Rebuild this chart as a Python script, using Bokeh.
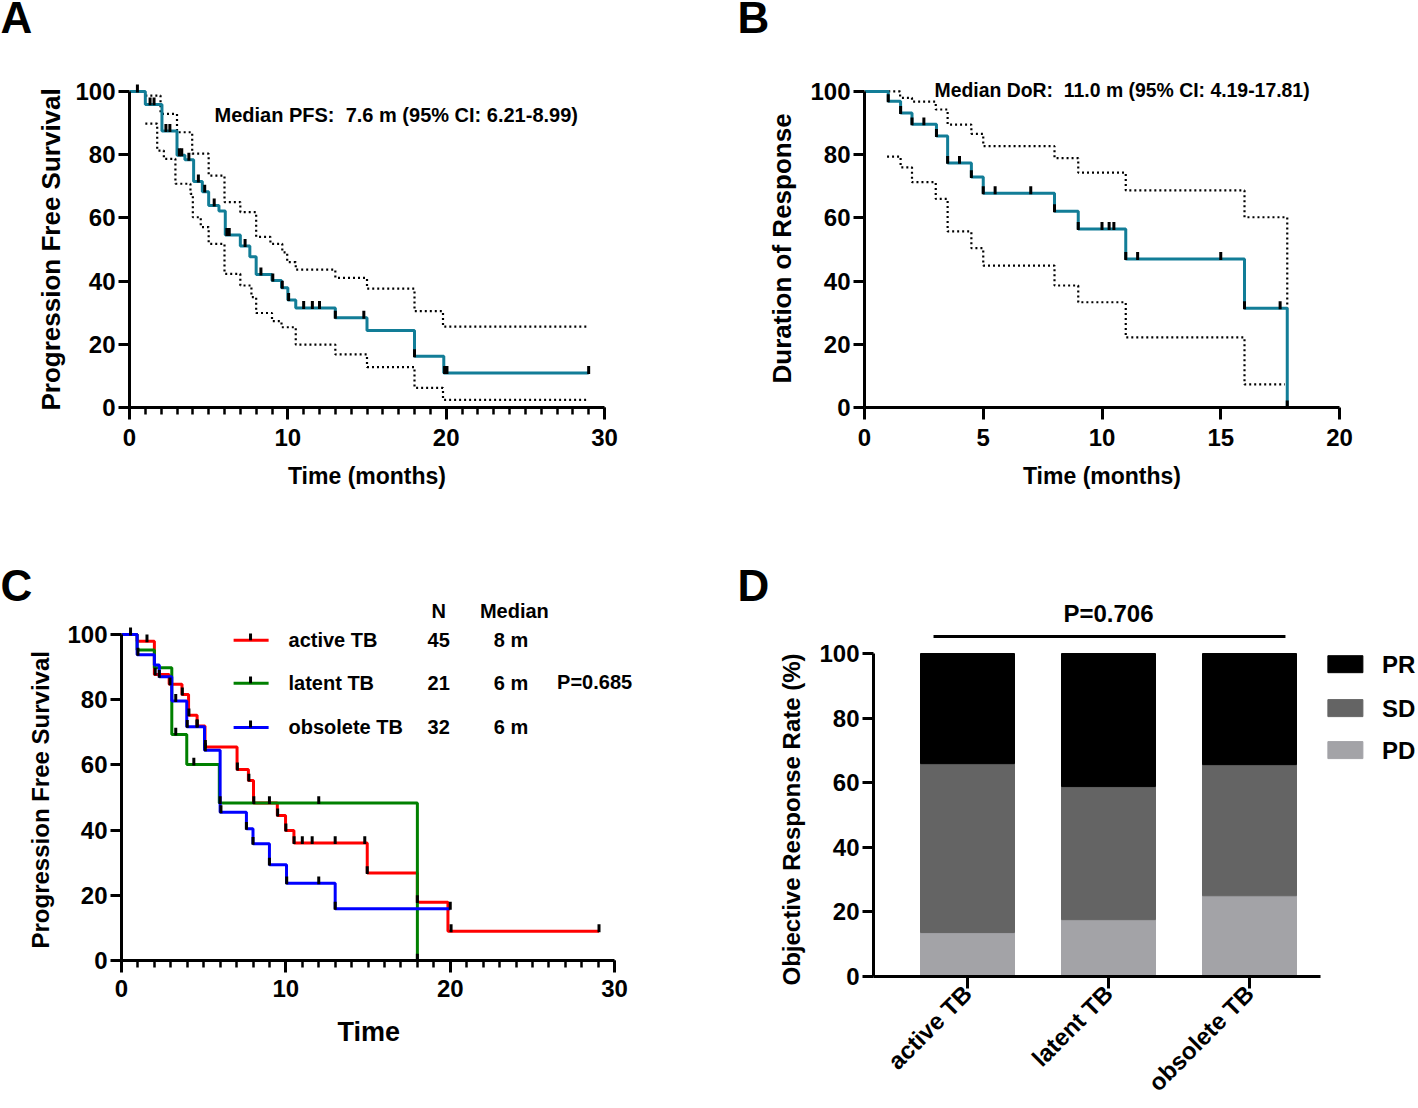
import math
import numpy as np
from bokeh.plotting import figure
from bokeh.layouts import row, column
from bokeh.models import FixedTicker, Range1d, Title
from bokeh.embed import file_html
from bokeh.resources import INLINE
from bokeh.core.properties import value

FONT = "Liberation Sans"

# ---------------- Panel A: PFS (Kaplan-Meier with 95% CI) ----------------
pfs_t = [0, 1.0, 2.05, 3.0, 3.5, 4.05, 4.6, 5.0, 5.65, 6.05, 7.0, 7.6, 8.0, 9.0, 9.6, 10.0, 10.5, 13.0, 15.0, 18.0, 19.85]
pfs_s = [100, 95.9, 87.5, 79.8, 78.4, 71.5, 68.3, 63.9, 62.2, 54.6, 51.1, 47.7, 42.1, 40.2, 37.9, 34.0, 31.5, 28.4, 24.4, 16.2, 10.9]
pfs_end = 29.0
pfs_cens = [0.5, 1.3, 1.55, 2.3, 2.55, 3.15, 3.3, 3.75, 4.35, 4.75, 5.35, 6.15, 6.3, 7.3, 8.3,
            9.05, 9.65, 10.05, 11.0, 11.55, 12.0, 13.0, 14.8, 18.0, 19.9, 20.05, 29.0]
pfs_hi_t = [1.0, 1.96, 3.0, 3.96, 5.0, 6.0, 7.0, 8.0, 8.9, 9.65, 9.96, 10.5, 13.0, 15.0, 18.0, 19.8]
pfs_hi_s = [98.7, 92.9, 87.1, 80.3, 73.4, 65.0, 61.8, 54.0, 51.8, 49.1, 46.0, 43.6, 41.0, 37.6, 30.5, 25.6]
pfs_lo_t = [1.0, 1.75, 2.17, 2.9, 3.85, 4.0, 4.5, 5.0, 6.0, 7.0, 7.7, 8.0, 9.0, 9.6, 10.5, 13.0, 15.0, 18.0, 19.8]
pfs_lo_s = [89.8, 81.3, 78.7, 70.8, 67.6, 60.2, 57.1, 51.8, 42.3, 38.6, 34.9, 29.9, 27.3, 25.4, 19.9, 16.8, 12.8, 6.2, 2.4]
pfs_ci_end = 28.9
pfs_text = "Median PFS:\u00a0 7.6 m (95% CI: 6.21-8.99)"

# ---------------- Panel B: Duration of response ----------------
dor_t = [0, 1.0, 1.52, 2.0, 3.03, 3.5, 4.5, 5.0, 8.0, 9.0, 11.0, 16.0, 17.8]
dor_s = [100, 96.9, 93.2, 89.6, 85.9, 77.4, 72.9, 67.8, 62.1, 56.5, 47.0, 31.4, 0]
dor_end = 17.8
dor_cens = [1.0, 1.52, 2.0, 2.5, 3.03, 3.5, 4.0, 4.5, 5.0, 5.5, 7.0, 8.0, 9.0, 10.0, 10.3, 10.5,
            11.0, 11.5, 15.0, 16.0, 17.5, 17.8]
dor_hi_t = [1.0, 1.5, 2.0, 3.0, 3.5, 4.5, 5.0, 8.0, 9.0, 11.0, 16.0, 17.8]
dor_hi_s = [100, 98.0, 96.8, 94.3, 89.5, 86.6, 82.7, 78.9, 74.3, 68.7, 60.2, 31.4]
dor_hi_end = 17.8
dor_lo_t = [0.95, 1.52, 2.0, 3.0, 3.5, 4.5, 5.0, 8.0, 9.0, 11.0, 16.0]
dor_lo_s = [79.4, 76.0, 71.3, 66.0, 55.7, 50.4, 44.9, 38.6, 33.3, 22.2, 7.3]
dor_lo_end = 17.7
dor_text = "Median DoR:\u00a0 11.0 m (95% CI: 4.19-17.81)"

# ---------------- Panel C: PFS by TB status ----------------
groups = ["active TB", "latent TB", "obsolete TB"]
group_n = ["45", "21", "32"]
group_median = ["8 m", "6 m", "6 m"]
group_colors = ["#ff0000", "#008000", "#0000ff"]
active_t = [0, 0.95, 2.0, 2.9, 3.68, 4.08, 4.6, 5.08, 7.03, 7.72, 8.03, 9.48, 9.98, 10.49, 14.95, 18.0, 19.86]
active_s = [100, 97.9, 87.7, 84.7, 81.6, 75.2, 71.9, 65.5, 58.6, 55.2, 48.3, 44.5, 39.9, 36.0, 26.8, 17.9, 9.0]
active_end = 29.05
active_cens = [0.55, 1.55, 2.05, 2.95, 3.7, 4.1, 4.6, 5.1, 7.05, 7.75, 8.05, 9.0, 9.5, 10.0, 10.5,
               11.0, 11.6, 13.0, 14.8, 14.95, 18.0, 20.05, 29.05]
latent_t = [0, 0.95, 2.0, 3.06, 3.97, 5.95, 18.0]
latent_s = [100, 95.2, 89.8, 69.3, 60.1, 48.3, 0]
latent_end = 18.0
latent_cens = [3.3, 4.4, 6.0, 12.0, 18.0]
obs_t = [0, 0.95, 2.0, 2.3, 3.06, 3.97, 5.05, 6.0, 7.6, 8.0, 9.0, 10.04, 13.0]
obs_s = [100, 93.8, 90.6, 87.0, 79.6, 71.7, 64.5, 45.5, 40.4, 35.8, 29.4, 23.7, 15.9]
obs_end = 20.0
obs_cens = [1.0, 2.3, 3.3, 4.0, 4.6, 5.1, 6.05, 7.6, 8.0, 9.0, 10.05, 12.0, 13.0, 20.0]
pval_c = "P=0.685"

# ---------------- Panel D: Objective response ----------------
d_cats = ["active TB", "latent TB", "obsolete TB"]
d_pd = [13.6, 17.6, 25.0]
d_sd = [52.3, 41.2, 40.6]
d_pr = [34.1, 41.2, 34.4]
d_labels = ["PR", "SD", "PD"]
d_colors = ["#000000", "#646464", "#a3a3a7"]
pval_d = "P=0.706"

TEAL = "#127d97"


def step_xy(t, s, end):
    xs, ys = [t[0]], [s[0]]
    for i in range(1, len(t)):
        xs += [t[i], t[i]]
        ys += [s[i - 1], s[i]]
    xs.append(end)
    ys.append(s[-1])
    return xs, ys


def surv_at(t, s, q):
    idx = np.searchsorted(np.array(t), np.array(q), side="right") - 1
    return np.array(s)[idx]


def make_fig(w, h, xr, yr, bl, br, bt, bb):
    p = figure(width=w, height=h, x_range=Range1d(*xr), y_range=Range1d(*yr),
               output_backend="svg", toolbar_location=None,
               min_border_left=bl, min_border_right=br, min_border_top=bt, min_border_bottom=bb)
    p.outline_line_color = None
    p.xgrid.visible = False
    p.ygrid.visible = False
    for ax in list(p.xaxis) + list(p.yaxis):
        ax.axis_line_width = 3
        ax.axis_line_color = "black"
        ax.major_tick_line_width = 3
        ax.major_tick_line_color = "black"
        ax.minor_tick_line_width = 2.5
        ax.minor_tick_line_color = "black"
        ax.major_tick_in = 0
        ax.major_tick_out = 11
        ax.minor_tick_in = 0
        ax.minor_tick_out = 7
        ax.major_label_text_font = FONT
        ax.major_label_text_font_style = "bold"
        ax.major_label_text_font_size = "24px"
        ax.major_label_text_color = "black"
        ax.axis_label_text_font = FONT
        ax.axis_label_text_font_style = "bold"
        ax.axis_label_text_color = "black"
    p.xaxis.major_tick_out = 12
    p.xaxis.major_label_standoff = 9
    p.yaxis.major_label_standoff = 3
    p.xaxis.axis_label_standoff = 14
    p.xaxis.axis_label_text_font_size = "23px"
    p.yaxis.ticker = FixedTicker(ticks=[0, 20, 40, 60, 80, 100])
    p.yaxis.bounds = (0, 100)
    p.title.text = ""
    return p


def side_title(p, text, side, size, offset, standoff, valign):
    p.add_layout(Title(text=text, text_font=FONT, text_font_style="bold", text_font_size=size,
                       text_color="black", align="left", offset=offset, standoff=standoff,
                       vertical_align=valign), side)


def km(p, t, s, end, color, width=3):
    xs, ys = step_xy(t, s, end)
    p.line(xs, ys, line_color=color, line_width=width)


def ci(p, t, s, end):
    xs, ys = step_xy(t, s, end)
    p.line(xs, ys, line_color="black", line_width=2.2, line_dash="2 3")


def censor(p, t, s, cens, h=2.2):
    cs = surv_at(t, s, cens)
    p.segment(x0=cens, y0=cs - 0.3, x1=cens, y1=cs + h, line_color="black", line_width=3)


def header(w, h, letter, x, ymid):
    p = figure(width=w, height=h, x_range=Range1d(0, w), y_range=Range1d(0, h),
               output_backend="svg", toolbar_location=None, min_border=0,
               x_axis_location=None, y_axis_location=None)
    p.outline_line_color = None
    p.grid.visible = False
    p.text(x=[x], y=[ymid], text=[letter], text_font=value(FONT), text_font_style="bold",
           text_font_size="44px", text_baseline="middle", text_align="left", text_color="black")
    return p


hdrA = header(716, 36, "A", 0, 19.5)
hdrB = header(702, 36, "B", 21, 19.5)
hdrC = header(716, 84, "C", 0, 17.5)
hdrD = header(702, 84, "D", 21, 17.5)

# ---- A ----
pA = make_fig(716, 482, (0, 30), (0, 106), 129, 112, 36, 111)
pA.xaxis.ticker = FixedTicker(ticks=[0, 10, 20, 30], minor_ticks=list(range(0, 31)))
pA.xaxis.bounds = (0, 30)
pA.xaxis.axis_label = "Time (months)"
side_title(pA, "Progression Free Survival", "left", "26px", -3, 14, "bottom")
ci(pA, pfs_hi_t, pfs_hi_s, pfs_ci_end)
ci(pA, pfs_lo_t, pfs_lo_s, pfs_ci_end)
km(pA, pfs_t, pfs_s, pfs_end, TEAL)
censor(pA, pfs_t, pfs_s, pfs_cens)
pA.text(x=[5.37], y=[92.7], text=[pfs_text], text_font=value(FONT), text_font_style="bold",
        text_font_size="20px", text_baseline="middle", text_align="left", text_color="black")

# ---- B ----
pB = make_fig(702, 482, (0, 20), (0, 106), 148, 79, 36, 111)
pB.xaxis.ticker = FixedTicker(ticks=[0, 5, 10, 15, 20])
pB.xaxis.bounds = (0, 20)
pB.xaxis.axis_label = "Time (months)"
side_title(pB, "Duration of Response", "left", "26px", 24, 22, "bottom")
ci(pB, dor_hi_t, dor_hi_s, dor_hi_end)
ci(pB, dor_lo_t, dor_lo_s, dor_lo_end)
km(pB, dor_t, dor_s, dor_end, TEAL)
censor(pB, dor_t, dor_s, dor_cens)
pB.text(x=[2.95], y=[100.6], text=[dor_text], text_font=value(FONT), text_font_style="bold",
        text_font_size="19.4px", text_baseline="middle", text_align="left", text_color="black")

# ---- C ----
pC = make_fig(716, 506, (0, 32), (0, 109.8), 121, 69, 0, 148)
pC.xaxis.ticker = FixedTicker(ticks=[0, 10, 20, 30], minor_ticks=list(range(0, 31)))
pC.xaxis.bounds = (0, 30)
pC.xaxis.major_label_standoff = 7
side_title(pC, "Progression Free Survival", "left", "24px", 12, 22, "bottom")
side_title(pC, "Time", "below", "27px", 216, 34, "top")
curves = [(active_t, active_s, active_end, active_cens),
          (latent_t, latent_s, latent_end, latent_cens),
          (obs_t, obs_s, obs_end, obs_cens)]
for (t, s, e, c), col in zip(curves, group_colors):
    km(pC, t, s, e, col)
for (t, s, e, c), col in zip(curves, group_colors):
    censor(pC, t, s, c, h=2.1)
leg_y = [98.2, 85.0, 71.5]
pC.segment(x0=[6.82] * 3, y0=leg_y, x1=[8.95] * 3, y1=leg_y, line_color=group_colors, line_width=3)
pC.segment(x0=[7.85] * 3, y0=leg_y, x1=[7.85] * 3, y1=[v + 2.1 for v in leg_y], line_color="black", line_width=3)
tk = dict(text_font=value(FONT), text_font_style="bold", text_font_size="20px",
          text_baseline="middle", text_color="black")
pC.text(x=[10.16] * 3, y=leg_y, text=groups, text_align="left", **tk)
pC.text(x=[19.3] * 3, y=leg_y, text=group_n, text_align="center", **tk)
pC.text(x=[23.7] * 3, y=leg_y, text=group_median, text_align="center", **tk)
pC.text(x=[19.3, 23.9], y=[107.2, 107.2], text=["N", "Median"], text_align="center", **tk)
pC.text(x=[26.5], y=[85.3], text=[pval_c], text_align="left", **tk)

# ---- D ----
x0d = 1 - 94 / 141
pD = make_fig(702, 506, (x0d, x0d + 545 / 141), (0, 115.8), 157, 0, 0, 132)
pD.xaxis.ticker = FixedTicker(ticks=[1, 2, 3])
pD.xaxis.major_label_overrides = {1: d_cats[0], 2: d_cats[1], 3: d_cats[2]}
pD.xaxis.bounds = (x0d, 3.5)
pD.xaxis.major_label_orientation = math.pi / 4
pD.xaxis.major_tick_out = 12
pD.xaxis.major_label_standoff = 1
pD.xaxis.major_label_text_font_size = "24px"
side_title(pD, "Objective Response Rate (%)", "left", "24px", -9, 24, "bottom")
xs_d = [1, 2, 3]
bw = 94 / 141
pd_top = [a for a in d_pd]
sd_top = [a + b for a, b in zip(d_pd, d_sd)]
pr_top = [a + b for a, b in zip(sd_top, d_pr)]
pD.vbar(x=xs_d, bottom=0, top=pd_top, width=bw, fill_color=d_colors[2], line_color=d_colors[2])
pD.vbar(x=xs_d, bottom=pd_top, top=sd_top, width=bw, fill_color=d_colors[1], line_color=d_colors[1])
pD.vbar(x=xs_d, bottom=sd_top, top=pr_top, width=bw, fill_color=d_colors[0], line_color=d_colors[0])
pD.segment(x0=[0.759], y0=[105.3], x1=[3.255], y1=[105.3], line_color="black", line_width=3)
pD.text(x=[2.0], y=[112.4], text=[pval_d], text_align="center", text_font=value(FONT),
        text_font_style="bold", text_font_size="24px", text_baseline="middle", text_color="black")
leg_dy = [96.7, 83.1, 70.1]
pD.rect(x=[3.68] * 3, y=leg_dy, width=35 / 141, height=17 / 3.23, fill_color=d_colors,
        line_color=d_colors)
pD.text(x=[3.94] * 3, y=leg_dy, text=d_labels, text_align="left", text_font=value(FONT),
        text_font_style="bold", text_font_size="24px", text_baseline="middle", text_color="black")

left_col = column(hdrA, row(pA), hdrC, row(pC))
right_col = column(hdrB, row(pB), hdrD, row(pD))
layout = row(left_col, right_col)
open("out.html", "w").write(file_html(layout, INLINE))
